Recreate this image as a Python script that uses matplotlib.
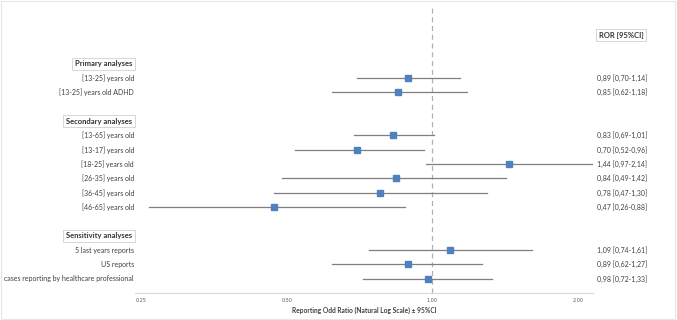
import numpy as np
import matplotlib.pyplot as plt
import matplotlib.transforms as mtransforms
from matplotlib.patches import Rectangle

plt.rcParams['font.family'] = ['Lato', 'DejaVu Sans']

# data
sections = ['Primary analyses', 'Secondary analyses', 'Sensitivity analyses']
primary_labels = ['[13-25] years old', '[13-25] years old ADHD']
primary_ror = [0.89, 0.85]
primary_lo = [0.70, 0.62]
primary_hi = [1.14, 1.18]

secondary_labels = ['[13-65] years old', '[13-17] years old', '[18-25] years old',
                    '[26-35] years old', '[36-45] years old', '[46-65] years old']
secondary_ror = [0.83, 0.70, 1.44, 0.84, 0.78, 0.47]
secondary_lo = [0.69, 0.52, 0.97, 0.49, 0.47, 0.26]
secondary_hi = [1.01, 0.96, 2.14, 1.42, 1.30, 0.88]

sensitivity_labels = ['5 last years reports', 'US reports',
                      'cases reporting by healthcare professional']
sensitivity_ror = [1.09, 0.89, 0.98]
sensitivity_lo = [0.74, 0.62, 0.72]
sensitivity_hi = [1.61, 1.27, 1.33]

xticks = [0.25, 0.5, 1.0, 2.0]
xtick_labels = ['0,25', '0,50', '1,00', '2,00']

groups = [
    (primary_labels, primary_ror, primary_lo, primary_hi),
    (secondary_labels, secondary_ror, secondary_lo, secondary_hi),
    (sensitivity_labels, sensitivity_ror, sensitivity_lo, sensitivity_hi),
]

W, H = 677, 320
fig = plt.figure(figsize=(W / 100, H / 100), dpi=100)
fig.patches.append(Rectangle((0.001, 0.004), 0.996, 0.994, transform=fig.transFigure,
                             fill=False, edgecolor='#e6e6e6', linewidth=0.8))

ax_left, ax_right = 135 / W, 593 / W
ax_bottom, ax_top = 1 - 293 / H, 1 - 5 / H
ax = fig.add_axes([ax_left, ax_bottom, ax_right - ax_left, ax_top - ax_bottom])

blue = '#4F81BD'
line_col = '#7f7f7f'
box = dict(boxstyle='square,pad=0.35', facecolor='white', edgecolor='#d0d0d0', linewidth=0.6)

label_tr = mtransforms.blended_transform_factory(fig.transFigure, ax.transData)
x_lab = 134 / W
x_val = 597 / W

row = 1
for sec, (labels, ror, lo, hi) in zip(sections, groups):
    ax.text(x_lab - 0.003, row, sec, transform=label_tr, ha='right', va='center',
            fontsize=5.5, fontweight='bold', color='#333333', bbox=box)
    row += 1
    for lab, r, l, h in zip(labels, ror, lo, hi):
        ax.plot([l, h], [row, row], color=line_col, linewidth=0.9, zorder=2)
        ax.plot(r, row, marker='s', markersize=5, color=blue, zorder=3, linestyle='none')
        ax.text(x_lab, row, lab, transform=label_tr, ha='right', va='center',
                fontsize=5.0, color='#404040')
        ax.text(x_val, row, f'{r:.2f} [{l:.2f}-{h:.2f}]'.replace('.', ','),
                transform=label_tr, ha='left', va='center', fontsize=5.0, color='#404040')
        row += 1
    row += 1

ax.text(621 / W, -1, 'ROR [95%CI]', transform=label_tr, ha='center', va='center',
        fontsize=5.5, fontweight='bold', color='#333333', bbox=box)

ax.axvline(1.0, color='#b0b0b0', linestyle=(0, (4, 3)), linewidth=0.9, zorder=1)

ax.set_xscale('log', base=2)
ax.set_xlim(0.243, 2.15)
ax.set_ylim(17, -3.1)
ax.set_xticks(xticks)
ax.set_xticklabels(xtick_labels, family='DejaVu Sans')
ax.minorticks_off()
ax.tick_params(axis='x', length=0, labelsize=3.5, colors='#595959', pad=3.5)
ax.set_yticks([])
for s in ['top', 'right', 'left']:
    ax.spines[s].set_visible(False)
ax.spines['bottom'].set_color('#d9d9d9')
ax.spines['bottom'].set_linewidth(0.8)
ax.patch.set_visible(False)
ax.set_xlabel('Reporting Odd Ratio (Natural Log Scale) ± 95%CI', fontsize=4.8,
              fontweight='bold', color='#404040', labelpad=2.5)

fig.savefig('out.png', dpi=100)
